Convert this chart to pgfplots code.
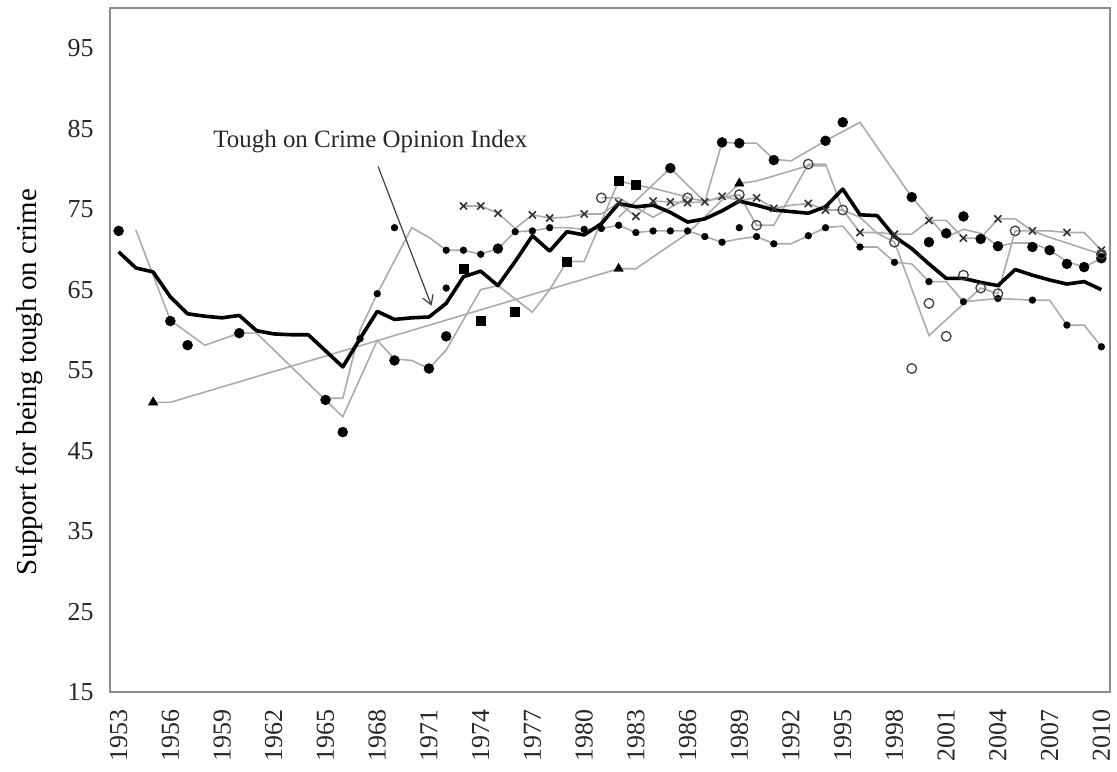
\documentclass[border=0pt]{standalone}
\usepackage{pgfplots}
\pgfplotsset{compat=1.18}
\usepackage{fontspec}
\setmainfont{Liberation Serif}
\usetikzlibrary{arrows.meta}
\definecolor{lgray}{HTML}{ABABAB}
\definecolor{fgray}{HTML}{8C8C8C}
\begin{document}
\begin{tikzpicture}
\begin{axis}[
  scale only axis, width=1000bp, height=684bp,
  xmin=1952.5, xmax=2010.5, ymin=15, ymax=100,
  xtick={1953,1956,...,2010}, ytick={15,25,...,95},
  major tick length=0pt,
  /pgf/number format/assume math mode=true,
  /pgf/number format/1000 sep={},
  tick label style={font=\fontsize{26}{29}\selectfont, text=black!85},
  x tick label style={rotate=90, anchor=east, inner sep=0pt},
  y tick label style={xshift=-13bp},
  xticklabel shift=17bp,
  axis line style={fgray, line width=2.2bp},
  ylabel={Support for being tough on crime},
  ylabel style={font=\fontsize{29}{32}\selectfont, at={(axis description cs:0,0.5)}, anchor=south, yshift=64bp, xshift=-32bp},
  clip=false,
]
% gray lines
\addplot[lgray, line width=1.6bp] coordinates {(1954,72.4)(1956,61.2)(1958,58.1)(1960,59.6)(1961,59.6)(1966,49.2)(1968,58.7)(1969,56.4)(1970,56.2)(1971,55.2)(1972,57.5)(1974,65)(1975,65.5)(1977,62.2)(1978,65)(1979,68.5)(1980,68.5)(1982,78.5)(1983,78)(1984,77.6)(1986,76.5)};
\addplot[lgray, line width=1.6bp] coordinates {(1965,51.5)(1966,51.5)(1967,60)(1968,64.5)(1970,72.7)(1971,71.5)(1972,69.9)(1973,69.9)(1974,69.4)(1975,70.1)(1976,72.2)(1977,72.3)(1978,72.7)(1979,72.7)(1980,72.5)(1981,72.6)(1982,73.0)(1983,72.1)(1984,72.3)(1986,72.3)(1987,71.6)(1988,70.9)(1989,71.3)(1990,71.6)(1991,70.7)(1992,70.7)(1993,71.7)(1994,72.7)(1995,72.9)(1996,70.3)(1997,70.3)(1998,68.4)(1999,68.2)(2000,66.0)(2001,66.0)(2002,63.5)(2004,63.9)(2006,63.7)(2007,63.7)(2008,60.6)(2009,60.6)(2010,57.9)};
\addplot[lgray, line width=1.6bp] coordinates {(1955,51)(1956,51)(1982,67.6)(1983,67.6)(1986,72)(1989,78.2)(1990,78.5)(1993,80.4)(1994,80.4)};
\addplot[lgray, line width=1.6bp] coordinates {(1973,75.4)(1974,75.4)(1975,74.5)(1976,72.6)(1977,74.3)(1978,73.9)(1979,74.0)(1980,74.4)(1981,74.4)(1982,75.8)(1983,74.1)(1984,76.0)(1985,75.9)(1986,75.8)(1987,75.9)(1988,76.6)(1989,76.1)(1990,76.4)(1991,75.1)(1992,75.5)(1993,75.7)(1994,74.9)(1995,74.9)(1996,72.1)(1997,72.1)(1998,71.9)(1999,71.9)(2000,73.6)(2001,73.6)(2002,71.4)(2003,71.4)(2004,73.8)(2005,73.8)(2006,72.3)(2007,72.3)(2008,72.1)(2009,72.1)(2010,69.9)};
\addplot[lgray, line width=1.6bp] coordinates {(1982,74)(1985,80.1)(1987,75.9)(1988,83.3)(1989,83.2)(1990,83.2)(1991,81.2)(1992,81.0)(1994,83.5)(1996,85.8)(1999,76.5)(2001,71.5)(2002,72.5)(2003,72)(2004,70.4)(2005,70.8)(2006,70.8)(2007,69.9)(2008,68.5)(2009,67.8)(2010,68.9)};
\addplot[lgray, line width=1.6bp] coordinates {(1981,76.4)(1982,76.4)(1984,74)(1986,76.4)(1987,76)(1989,76.8)(1990,73)(1991,73)(1993,80.6)(1994,80.6)(1995,74.9)(1996,74)(1997,72)(1998,70.9)(2000,59.3)(2003,65.2)(2004,64.5)(2005,72.3)(2006,72.3)(2007,71.5)(2010,69.4)};
% index
\addplot[black, line width=3.6bp, line join=round] coordinates {(1953,69.7)(1954,67.7)(1955,67.2)(1956,64.1)(1957,62.0)(1958,61.7)(1959,61.5)(1960,61.8)(1961,59.9)(1962,59.5)(1963,59.4)(1964,59.4)(1965,57.4)(1966,55.4)(1967,58.9)(1968,62.3)(1969,61.3)(1970,61.5)(1971,61.6)(1972,63.3)(1973,66.6)(1974,67.3)(1975,65.5)(1976,68.5)(1977,71.7)(1978,69.8)(1979,72.2)(1980,71.8)(1981,73.2)(1982,75.7)(1983,75.3)(1984,75.5)(1985,74.6)(1986,73.4)(1987,73.8)(1988,74.8)(1989,76.0)(1990,75.5)(1991,74.9)(1992,74.7)(1993,74.5)(1994,75.3)(1995,77.5)(1996,74.3)(1997,74.2)(1998,71.6)(1999,70.1)(2000,68.2)(2001,66.4)(2002,66.4)(2003,65.9)(2004,65.5)(2005,67.5)(2006,66.8)(2007,66.2)(2008,65.7)(2009,66.0)(2010,65.0)};
% markers: big dots
\addplot[only marks, mark=*, mark size=5bp, black] coordinates {(1953,72.3)(1956,61.1)(1957,58.1)(1960,59.6)(1965,51.3)(1966,47.3)(1969,56.2)(1971,55.2)(1972,59.2)(1975,70.1)(1985,80.1)(1988,83.3)(1989,83.2)(1991,81.1)(1994,83.5)(1995,85.8)(1999,76.5)(2000,70.9)(2001,72.0)(2002,74.1)(2003,71.3)(2004,70.4)(2006,70.3)(2007,69.9)(2008,68.2)(2009,67.8)(2010,68.9)};
% small dots
\addplot[only marks, mark=*, mark size=3.4bp, black] coordinates {(1967,58.9)(1968,64.5)(1969,72.7)(1972,65.2)(1972,69.9)(1973,69.9)(1974,69.4)(1976,72.2)(1977,72.3)(1978,72.7)(1980,72.5)(1981,72.6)(1982,73.0)(1983,72.1)(1984,72.3)(1985,72.3)(1986,72.3)(1987,71.6)(1988,70.9)(1989,72.7)(1990,71.6)(1991,70.7)(1993,71.7)(1994,72.7)(1996,70.3)(1998,68.4)(2000,66.0)(2002,63.5)(2004,63.9)(2006,63.7)(2008,60.6)(2010,57.9)};
% squares
\addplot[only marks, mark=square*, mark size=4.5bp, black] coordinates {(1973,67.6)(1974,61.2)(1976,62.3)(1979,68.5)(1982,78.5)(1983,78.0)};
% crosses
\addplot[only marks, mark=x, mark size=5bp, black!80, mark options={line width=1.6bp}] coordinates {(1973,75.4)(1974,75.4)(1975,74.5)(1977,74.3)(1978,73.9)(1980,74.4)(1982,75.8)(1983,74.1)(1984,76.0)(1985,75.9)(1986,75.8)(1987,75.9)(1988,76.6)(1989,76.1)(1990,76.4)(1991,75.1)(1993,75.7)(1994,74.9)(1996,72.1)(1998,71.9)(2000,73.6)(2002,71.4)(2004,73.8)(2006,72.3)(2008,72.1)(2010,69.9)};
% open circles
\addplot[only marks, mark=o, mark size=4.8bp, black!75, mark options={line width=1.3bp}] coordinates {(1981,76.4)(1986,76.4)(1989,76.8)(1990,73.0)(1993,80.6)(1995,74.9)(1998,70.9)(1999,55.2)(2000,63.3)(2001,59.2)(2002,66.8)(2003,65.2)(2004,64.5)(2005,72.3)(2010,69.4)};
% triangles
\addplot[only marks, mark=triangle*, mark size=5.5bp, black] coordinates {(1955,51.0)(1982,67.6)(1989,78.2)};
% annotation
\node[font=\fontsize{25}{28}\selectfont, text=black!85] at (axis cs:1967.6,83.4) {Tough on Crime Opinion Index};
\draw[black!75, line width=1.2bp, -{Straight Barb[length=9bp,width=11bp]}] (axis cs:1968.05,80.3) -- (axis cs:1971.15,63.0);
\end{axis}
\path ([xshift=-110bp,yshift=-79bp]current axis.south west) rectangle ([xshift=7bp,yshift=8bp]current axis.north east);
\end{tikzpicture}
\end{document}
